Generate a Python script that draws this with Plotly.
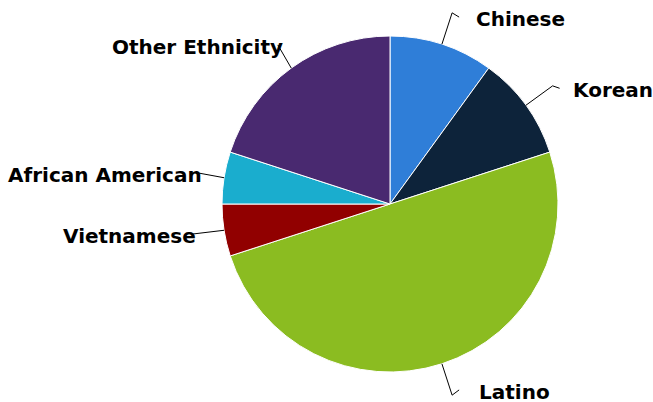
import math
import plotly.graph_objects as go

labels = ["Chinese", "Korean", "Latino", "Vietnamese", "African American", "Other Ethnicity"]
values = [10, 10, 50, 5, 5, 20]
colors = ["#2f7ed8", "#0d233a", "#8bbc21", "#910000", "#1aadce", "#492970"]

W, H = 653, 402
cx, cy, r = 390, 204, 168  # pixel layout of the pie (screen coords)
elbow_d, label_d = 33, 28
nudge = {"Korean": -4, "Vietnamese": -6, "Latino": 3}  # small label x adjustments

def px(x):
    return x / W

def py(y):
    return 1 - y / H

fig = go.Figure(go.Pie(
    labels=labels, values=values, sort=False, direction="clockwise", rotation=0,
    marker=dict(colors=colors, line=dict(color="white", width=1)),
    textinfo="none", hoverinfo="label+percent", showlegend=False,
    domain=dict(x=[px(cx - r), px(cx + r)], y=[py(cy + r), py(cy - r)]),
))

total = sum(values)
cum = 0
shapes, annotations = [], []
for lab, v in zip(labels, values):
    mid = (cum + v / 2) / total * 2 * math.pi
    cum += v
    sx, sy = math.sin(mid), -math.cos(mid)
    ex, ey = cx + r * sx, cy + r * sy
    bx, by = cx + (r + elbow_d) * sx, cy + (r + elbow_d) * sy
    ly = cy + (r + label_d) * sy + 1.5
    if sx >= 0:
        path = (f"M {px(ex)} {py(ey)} L {px(bx)} {py(by)} "
                f"L {px(bx + 7)} {py(ly - 2)}")
        tx = bx + 22 + nudge.get(lab, 0)
        anchor = "left"
    else:
        tend = bx + 11 + nudge.get(lab, 0)
        path = f"M {px(ex)} {py(ey)} L {px(tend - 5)} {py(ly - 2)}"
        tx = tend + 2
        anchor = "right"
    shapes.append(dict(type="path", path=path, xref="paper", yref="paper",
                       line=dict(color="#000000", width=1)))
    annotations.append(dict(x=px(tx), y=py(ly), xref="paper", yref="paper",
                            text=lab, showarrow=False, xanchor=anchor, yanchor="middle",
                            font=dict(family="DejaVu Sans", size=20, color="#000000", weight="bold")))

fig.update_layout(width=W, height=H, margin=dict(l=0, r=0, t=0, b=0),
                  paper_bgcolor="white", plot_bgcolor="white",
                  shapes=shapes, annotations=annotations)
fig.write_html("out.html", config={"displayModeBar": False},
               post_script="document.body.style.margin='0';document.body.style.overflow='hidden';")
